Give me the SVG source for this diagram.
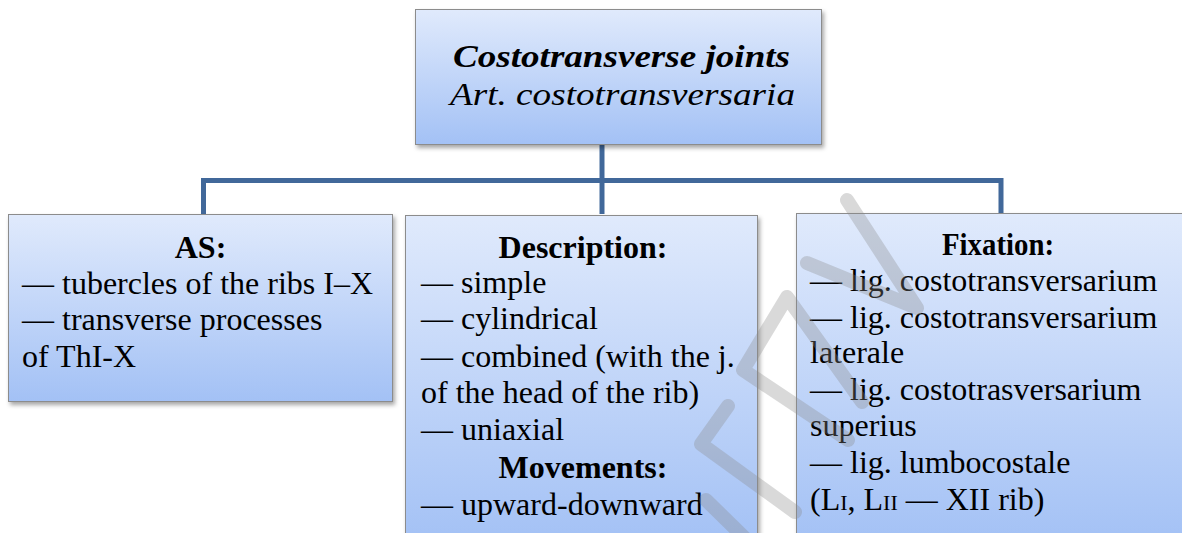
<svg xmlns="http://www.w3.org/2000/svg" width="1182" height="533" viewBox="0 0 1182 533">
<style>
.box{stroke:#8c8c8c;stroke-width:1;filter:url(#sh)}
.t{font-family:"Liberation Serif","Times New Roman",serif;fill:#000;font-size:32px}
.h{font-weight:bold;text-anchor:middle}
.conn{stroke:#41689a;stroke-width:5;fill:none}
.wm{stroke:#8a8a8a;stroke-opacity:0.32;stroke-width:14;fill:none;stroke-linecap:round;stroke-linejoin:round}
</style>
<defs>
<linearGradient id="gTop" x1="0" y1="0" x2="0" y2="1">
<stop offset="0" stop-color="#e0eafc"/><stop offset="1" stop-color="#a3c1f5"/>
</linearGradient>
<linearGradient id="gAS" x1="0" y1="0" x2="0" y2="1">
<stop offset="0" stop-color="#e0eafc"/><stop offset="1" stop-color="#a3c1f5"/>
</linearGradient>
<linearGradient id="gTall" gradientUnits="userSpaceOnUse" x1="0" y1="214" x2="0" y2="545">
<stop offset="0" stop-color="#e0eafc"/><stop offset="1" stop-color="#a3c1f5"/>
</linearGradient>
<filter id="sh" x="-10%" y="-10%" width="120%" height="125%">
<feDropShadow dx="2" dy="3" stdDeviation="2" flood-color="#000" flood-opacity="0.35"/>
</filter>
</defs>

<g id="connectors">
<path class="conn" d="M602,145 V214"/>
<path class="conn" d="M203.5,216 V180.5 H1001 V214"/>
</g>

<g id="node-top">
<rect class="box" x="415.5" y="9.5" width="406" height="135" fill="url(#gTop)"/>
<text class="t" x="453" y="67" font-weight="bold" font-style="italic" font-size="36" textLength="337" lengthAdjust="spacingAndGlyphs">Costotransverse joints</text>
<text class="t" x="450" y="105" font-style="italic" font-size="37" textLength="345" lengthAdjust="spacingAndGlyphs">Art. costotransversaria</text>
</g>

<g id="node-as">
<rect class="box" x="8.5" y="214.5" width="384" height="187" fill="url(#gAS)"/>
<text class="t h" x="200.5" y="258">AS:</text>
<text class="t" x="22" y="294">— tubercles of the ribs I–X</text>
<text class="t" x="22" y="330">— transverse processes</text>
<text class="t" x="22" y="367">of ThI-X</text>
</g>

<g id="node-description">
<rect class="box" x="405.5" y="215.5" width="352" height="340" fill="url(#gTall)"/>
<text class="t h" x="583" y="258">Description:</text>
<text class="t" x="421" y="293">— simple</text>
<text class="t" x="421" y="329">— cylindrical</text>
<text class="t" x="421" y="367">— combined (with the j.</text>
<text class="t" x="421" y="403">of the head of the rib)</text>
<text class="t" x="421" y="440">— uniaxial</text>
<text class="t h" x="583" y="478">Movements:</text>
<text class="t" x="421" y="515">— upward-downward</text>
</g>

<g id="node-fixation">
<rect class="box" x="796.5" y="213.5" width="400" height="340" fill="url(#gTall)"/>
<text class="t" x="942" y="255" font-weight="bold" font-size="28" textLength="112" lengthAdjust="spacingAndGlyphs">Fixation:</text>
<text class="t" x="810" y="291">— lig. costotransversarium</text>
<text class="t" x="810" y="328">— lig. costotransversarium</text>
<text class="t" x="810" y="363">laterale</text>
<text class="t" x="810" y="400">— lig. costotrasversarium</text>
<text class="t" x="810" y="436">superius</text>
<text class="t" x="810" y="473">— lig. lumbocostale</text>
<text class="t" x="810" y="510">(L<tspan font-size="22">I</tspan>, L<tspan font-size="22">II</tspan> — XII rib)</text>
</g>

<g id="watermark">
<path class="wm" d="M847,200 L917,308 L807,263"/>
<path class="wm" d="M862,402 L787,297 L743,370 L848,440"/>
<path class="wm" d="M728,406 L701,444 L795,512"/>
<path class="wm" d="M706,500 L752,545"/>
</g>
</svg>
